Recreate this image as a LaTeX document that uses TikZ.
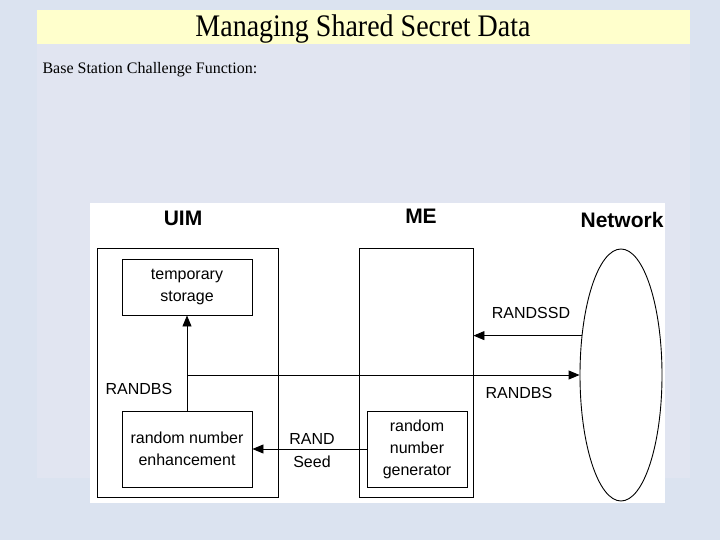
\documentclass[tikz,border=0pt]{standalone}
\usepackage{fontspec}
\setmainfont{Liberation Serif}
\setsansfont{Liberation Sans}
\usetikzlibrary{arrows.meta,positioning,shapes.geometric}
\definecolor{slidebg}{HTML}{DBE3F0}
\definecolor{panelbg}{HTML}{E1E5F1}
\definecolor{titlebg}{HTML}{FFFFCC}
\tikzset{
  ubox/.style    = {rectangle, draw=black, fill=white, line width=0.9pt,
                    align=center, font=\sffamily\fontsize{16}{22}\selectfont},
  head/.style    = {font=\sffamily\bfseries\fontsize{21}{24}\selectfont},
  sig/.style     = {line width=0.9pt, -{Triangle[length=11pt,width=9pt]}},
  siglbl/.style  = {align=center, font=\sffamily\fontsize{16}{23}\selectfont},
}

\begin{document}
\begin{tikzpicture}[x=1pt, y=-1pt]
\useasboundingbox[fill=slidebg] (0,0) rectangle (720,540);
\fill[panelbg] (37,44) rectangle (690,478);
\fill[titlebg] (37,10) rectangle (690,44);
\node[font=\fontsize{28}{30}\selectfont, yscale=1.12] (title) at (363,29) {Managing Shared Secret Data};
\node[anchor=west, font=\fontsize{16}{18}\selectfont] (sub) at (39,70) {Base Station Challenge Function:};

% diagram canvas
\fill[white] (90,203) rectangle (665,503);

\node[head] (uimh) at (183,218) {UIM};
\node[head] (meh)  at (421,216) {ME};
\node[head, anchor=east] (neth) at (667,220) {Network};

\node[ubox, minimum width=181pt, minimum height=249pt] (uim) at (187.5,372.5) {};
\node[ubox, minimum width=114pt, minimum height=249pt] (me)  at (416,372.5) {};
\node[ubox, minimum width=130pt, minimum height=56pt] (tmp) at (187,287) {temporary\\storage};
\node[ubox, minimum width=130pt, minimum height=76pt] (rne) at (187,449) {random number\\enhancement};
\node[ubox, minimum width=100pt, minimum height=76pt] (rng) at (417,449) {random\\number\\generator};
\node[ellipse, draw=black, line width=0.9pt, minimum width=82pt, minimum height=252pt] (net) at (621,375) {};

\draw[sig] (rne.north) -- (tmp.south);
\draw[sig] (rne.north |- net.west) -- (net.west);
\draw[sig] (net.135) -- (me.east |- net.135);
\draw[sig] (rng.west) -- (rne.east);

\node[siglbl] (bsl) at (139,389) {RANDBS};
\node[siglbl] (seedl) at (312,451) {RAND\\Seed};
\node[siglbl] (ssdl) at (531,313) {RANDSSD};
\node[siglbl] (bsr) at (519,393) {RANDBS};
\end{tikzpicture}
\end{document}
